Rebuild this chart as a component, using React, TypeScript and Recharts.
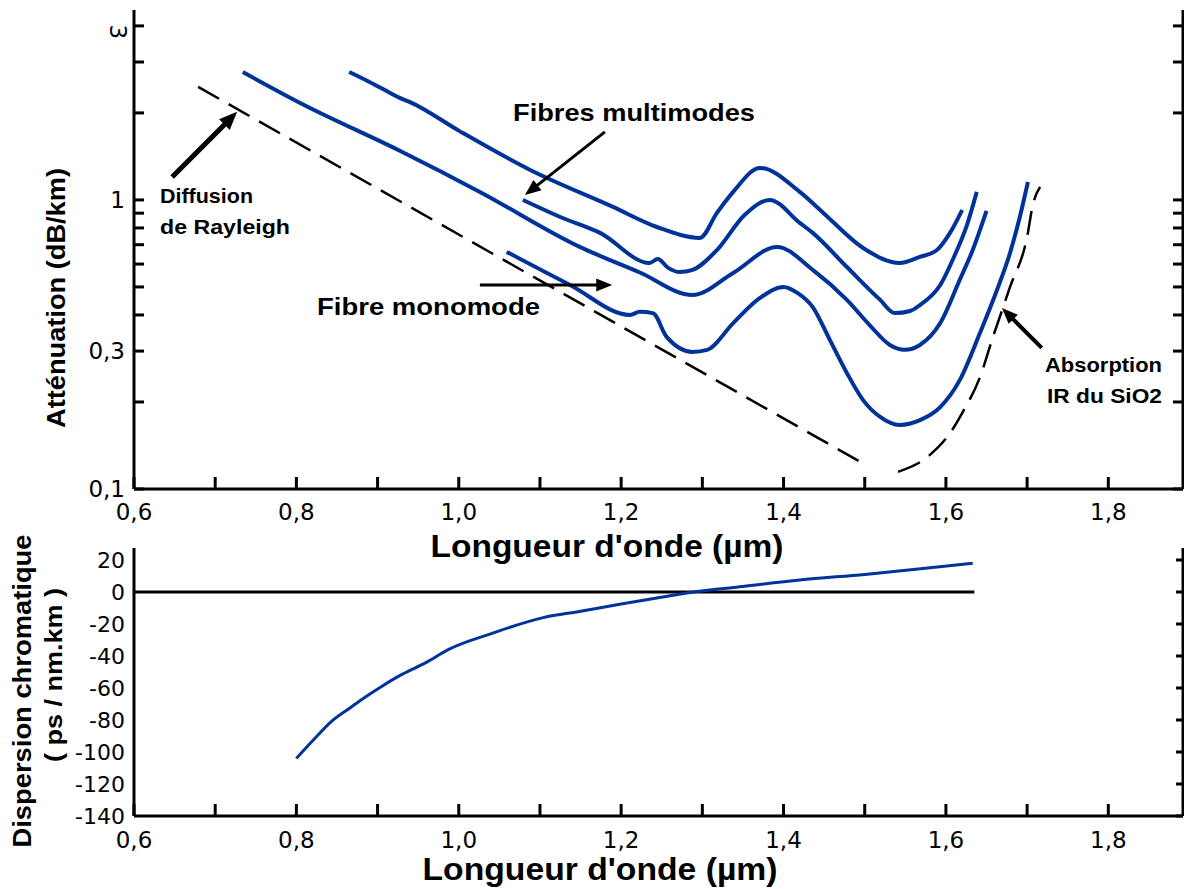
import { LineChart, Line, XAxis, YAxis, ReferenceLine } from "recharts"

const BLUE = "#003399"
const TICK_FONT = "DejaVu Sans"
const TEXT_FONT = "Liberation Sans, Arial, sans-serif"

// wavelength axis (µm)
const waveDomain = [0.6, 1.892]
const waveTicks = [0.6, 0.7, 0.8, 0.9, 1.0, 1.1, 1.2, 1.3, 1.4, 1.5, 1.6, 1.7, 1.8]

// attenuation axis (dB/km, log)
const attDomain = [0.1, 4.54]
const attTicks = [0.1, 0.2, 0.3, 0.4, 0.5, 0.6, 0.7, 0.8, 0.9, 1, 2, 3, 4]
const attTickLabels = ["0,1", "", "0,3", "", "", "", "", "", "", "1", "", "", "3"]

// multimode fibre, upper curve
const mmUpperX = [0.865, 0.89, 0.915, 0.928, 0.94, 1.001, 1.088, 1.19, 1.244, 1.297, 1.318, 1.338, 1.371, 1.42, 1.449, 1.498, 1.543, 1.568, 1.589, 1.605, 1.62]
const mmUpperY = [2.77, 2.56, 2.35, 2.25, 2.18, 1.73, 1.27, 0.946, 0.806, 0.739, 0.902, 1.066, 1.29, 1.066, 0.902, 0.682, 0.605, 0.635, 0.671, 0.769, 0.923]

// multimode fibre starting at 0.73 µm
const mmLongX = [0.734, 0.804, 0.928, 1.026, 1.149, 1.223, 1.288, 1.338, 1.392, 1.436, 1.478, 1.506, 1.531, 1.549, 1.568, 1.593, 1.617, 1.633, 1.65]
const mmLongY = [2.77, 2.17, 1.477, 1.066, 0.688, 0.561, 0.469, 0.559, 0.688, 0.573, 0.451, 0.369, 0.315, 0.303, 0.315, 0.375, 0.529, 0.671, 0.916]

// multimode fibre starting at 1.08 µm
const mmShortX = [1.079, 1.125, 1.174, 1.235, 1.245, 1.258, 1.272, 1.288, 1.318, 1.352, 1.383, 1.42, 1.436, 1.478, 1.519, 1.537, 1.556, 1.568, 1.593, 1.611, 1.626, 1.638]
const mmShortY = [1.0, 0.873, 0.769, 0.605, 0.625, 0.582, 0.563, 0.573, 0.671, 0.887, 1.0, 0.833, 0.769, 0.586, 0.451, 0.406, 0.413, 0.433, 0.508, 0.645, 0.82, 1.066]

// single-mode fibre
const smX = [1.059, 1.137, 1.211, 1.223, 1.239, 1.256, 1.288, 1.306, 1.338, 1.371, 1.4, 1.417, 1.436, 1.457, 1.478, 1.498, 1.519, 1.543, 1.568, 1.593, 1.617, 1.642, 1.663, 1.679, 1.691, 1.701]
const smY = [0.661, 0.508, 0.4, 0.41, 0.406, 0.336, 0.298, 0.303, 0.375, 0.458, 0.5, 0.477, 0.426, 0.328, 0.252, 0.203, 0.1775, 0.1665, 0.173, 0.192, 0.238, 0.347, 0.489, 0.656, 0.873, 1.154]

// Rayleigh scattering limit
const rayleighX = [0.679, 1.497]
const rayleighY = [2.46, 0.123]

// SiO2 infrared absorption
const irX = [1.541, 1.58, 1.605, 1.62, 1.642, 1.658, 1.679, 1.7, 1.707, 1.716]
const irY = [0.1146, 0.131, 0.156, 0.183, 0.244, 0.336, 0.5, 0.745, 0.96, 1.109]

// chromatic dispersion (ps / nm.km)
const dispDomain = [-140, 27.5]
const dispTicks = [-140, -120, -100, -80, -60, -40, -20, 0, 20]
const dispX = [0.8, 0.82, 0.843, 0.866, 0.885, 0.905, 0.93, 0.96, 0.987, 1.04, 1.104, 1.15, 1.2, 1.264, 1.289, 1.35, 1.42, 1.5, 1.56, 1.633]
const dispY = [-104, -93, -81, -72.5, -65.6, -59, -51.5, -44, -36, -26, -16, -12, -7.5, -2, 0, 3.5, 7.5, 11, 14, 18]
const dispZeroEnd = 1.635

const zip = (xs: number[], ys: number[]) => xs.map((x, i) => ({ x, y: ys[i] }))

const waveLabel = (v: number) => (Math.round(v * 10) % 2 === 0 ? v.toFixed(1).replace(".", ",") : "")

const axisStyle = { stroke: "#000", strokeWidth: 3 }
const tickFont = { fontSize: 23, fontFamily: TICK_FONT, fill: "#000" }

function Arrow(props: any) {
  const { x1, y1, x2, y2, w = 3, head = 16, headW = 13 } = props
  const dx = x2 - x1
  const dy = y2 - y1
  const len = Math.hypot(dx, dy) || 1
  const ux = dx / len
  const uy = dy / len
  const bx = x2 - ux * head
  const by = y2 - uy * head
  const px = (-uy * headW) / 2
  const py = (ux * headW) / 2
  return (
    <g>
      <line x1={x1} y1={y1} x2={bx + ux * 2} y2={by + uy * 2} stroke="#000" strokeWidth={w} />
      <polygon points={`${x2},${y2} ${bx + px},${by + py} ${bx - px},${by - py}`} fill="#000" />
    </g>
  )
}

function AttTick(props: any) {
  const { x, y, payload } = props
  const label = attTickLabels[attTicks.indexOf(payload.value)]
  if (!label) return <g />
  if (label === "3") {
    return (
      <text x={x - 7} y={y + 6} dy="0.355em" textAnchor="middle" transform={`rotate(90 ${x - 7} ${y + 6})`} {...tickFont}>
        {label}
      </text>
    )
  }
  return (
    <text x={x} y={y} dy="0.355em" textAnchor="end" {...tickFont}>
      {label}
    </text>
  )
}

function AttenuationChart() {
  return (
    <LineChart width={1184} height={540} margin={{ top: 10, right: 0, bottom: 0, left: 0 }}>
      <XAxis
        dataKey="x"
        type="number"
        domain={waveDomain}
        allowDataOverflow
        ticks={waveTicks}
        interval={0}
        tickFormatter={waveLabel}
        height={51}
        tickSize={-12}
        tickMargin={27}
        axisLine={axisStyle}
        tickLine={axisStyle}
        tick={tickFont}
      />
      <XAxis xAxisId="top" orientation="top" type="number" domain={waveDomain} height={0} tick={false} tickLine={false} axisLine={axisStyle} />
      <YAxis
        type="number"
        scale="log"
        domain={attDomain}
        allowDataOverflow
        ticks={attTicks}
        interval={0}
        width={134}
        tickSize={-10}
        tickMargin={19}
        axisLine={axisStyle}
        tickLine={axisStyle}
        tick={(p: any) => <AttTick {...p} />}
      />
      <YAxis
        yAxisId="r"
        orientation="right"
        type="number"
        scale="log"
        domain={attDomain}
        allowDataOverflow
        ticks={attTicks}
        interval={0}
        width={1}
        tickSize={-10}
        tickFormatter={() => ""}
        axisLine={axisStyle}
        tickLine={axisStyle}
      />

      <Line data={zip(rayleighX, rayleighY)} dataKey="y" type="linear" stroke="#000" strokeWidth={2.5} strokeDasharray="24 11" dot={false} isAnimationActive={false} />
      <Line data={zip(irX, irY)} dataKey="y" type="monotone" stroke="#000" strokeWidth={2.5} strokeDasharray="24 11" dot={false} isAnimationActive={false} />
      <Line data={zip(mmUpperX, mmUpperY)} dataKey="y" type="monotone" stroke={BLUE} strokeWidth={4} dot={false} isAnimationActive={false} />
      <Line data={zip(mmLongX, mmLongY)} dataKey="y" type="monotone" stroke={BLUE} strokeWidth={4} dot={false} isAnimationActive={false} />
      <Line data={zip(mmShortX, mmShortY)} dataKey="y" type="monotone" stroke={BLUE} strokeWidth={4} dot={false} isAnimationActive={false} />
      <Line data={zip(smX, smY)} dataKey="y" type="monotone" stroke={BLUE} strokeWidth={4} dot={false} isAnimationActive={false} />

      <ReferenceLine segment={[{ x: 0.647, y: 1.2 }, { x: 0.727, y: 2.017 }]} shape={(p: any) => <Arrow {...p} w={5} head={18} headW={15} />} />
      <ReferenceLine segment={[{ x: 1.18, y: 1.72 }, { x: 1.0815, y: 1.04 }]} shape={(p: any) => <Arrow {...p} w={3} />} />
      <ReferenceLine segment={[{ x: 1.026, y: 0.508 }, { x: 1.189, y: 0.508 }]} shape={(p: any) => <Arrow {...p} w={3} />} />
      <ReferenceLine segment={[{ x: 1.718, y: 0.3076 }, { x: 1.669, y: 0.423 }]} shape={(p: any) => <Arrow {...p} w={4} />} />
    </LineChart>
  )
}

function DispersionChart() {
  return (
    <LineChart width={1184} height={349} margin={{ top: 8, right: 0, bottom: 0, left: 0 }}>
      <XAxis
        dataKey="x"
        type="number"
        domain={waveDomain}
        allowDataOverflow
        ticks={waveTicks}
        interval={0}
        tickFormatter={waveLabel}
        height={73}
        tickSize={-12}
        tickMargin={28}
        axisLine={axisStyle}
        tickLine={axisStyle}
        tick={tickFont}
      />
      <YAxis
        type="number"
        domain={dispDomain}
        allowDataOverflow
        ticks={dispTicks}
        interval={0}
        width={134}
        tickSize={0}
        tickMargin={9}
        tickLine={false}
        axisLine={axisStyle}
        tick={{ ...tickFont, fontSize: 22 }}
      />
      <YAxis
        yAxisId="r"
        orientation="right"
        type="number"
        domain={dispDomain}
        allowDataOverflow
        ticks={dispTicks}
        interval={0}
        width={1}
        tickSize={-7}
        tickFormatter={() => ""}
        axisLine={axisStyle}
        tickLine={axisStyle}
      />
      <ReferenceLine segment={[{ x: waveDomain[0], y: 0 }, { x: dispZeroEnd, y: 0 }]} stroke="#000" strokeWidth={3} />
      <Line data={zip(dispX, dispY)} dataKey="y" type="monotone" stroke={BLUE} strokeWidth={3} dot={false} isAnimationActive={false} />
    </LineChart>
  )
}

export default function App() {
  const txt = { fontFamily: TEXT_FONT, fontWeight: "bold" as const, fill: "#000", lengthAdjust: "spacingAndGlyphs" }
  return (
    <div style={{ position: "absolute", left: 0, top: 0, width: 1184, height: 889, background: "#fff" }}>
      <div style={{ position: "absolute", left: 0, top: 0 }}>
        <AttenuationChart />
      </div>
      <div style={{ position: "absolute", left: 0, top: 540 }}>
        <DispersionChart />
      </div>
      <svg width={1184} height={889} style={{ position: "absolute", left: 0, top: 0, pointerEvents: "none" }}>
        <text x={160} y={203} fontSize={21} textLength={93} {...txt}>Diffusion</text>
        <text x={160} y={234} fontSize={21} textLength={130} {...txt}>de Rayleigh</text>
        <text x={513} y={121} fontSize={24} textLength={242} {...txt}>Fibres multimodes</text>
        <text x={317} y={315} fontSize={24} textLength={223} {...txt}>Fibre monomode</text>
        <text x={1045} y={372} fontSize={21} textLength={117} {...txt}>Absorption</text>
        <text x={1047} y={403} fontSize={21} textLength={115} {...txt}>IR du SiO2</text>
        <text x={607} y={557} fontSize={31} textAnchor="middle" textLength={353} {...txt}>Longueur d'onde (µm)</text>
        <text x={600} y={880} fontSize={31} textAnchor="middle" textLength={355} {...txt}>Longueur d'onde (µm)</text>
        <text x={65} y={298} fontSize={25} textAnchor="middle" textLength={260} transform="rotate(-90 65 298)" {...txt}>Atténuation (dB/km)</text>
        <text x={31} y={691} fontSize={26} textAnchor="middle" textLength={313} transform="rotate(-90 31 691)" {...txt}>Dispersion chromatique</text>
        <text x={62} y={675} fontSize={24} textAnchor="middle" textLength={174} transform="rotate(-90 62 675)" {...txt}>( ps / nm.km )</text>
      </svg>
    </div>
  )
}
